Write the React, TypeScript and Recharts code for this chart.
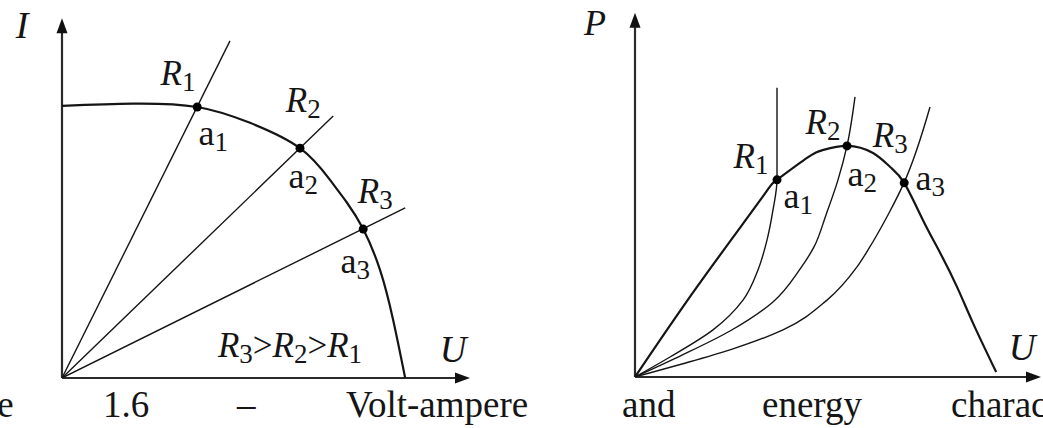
import React from "react";
import { ComposedChart, Line, Scatter, XAxis, YAxis, ReferenceLine } from "recharts";

// ---- left: volt-ampere characteristic I(U) ----
const vaU = [0, 1.78, 3.38, 4.7, 5.95, 6.7, 7.13, 7.53, 7.95, 8.28, 8.58];
const vaI = [7.2, 7.26, 7.17, 6.75, 6.08, 5.24, 4.63, 3.94, 2.86, 1.53, 0];

// load lines (straight, through the origin)
const load1U = [0, 4.2];
const load1I = [0, 8.92];
const load2U = [0, 6.78];
const load2I = [0, 6.93];
const load3U = [0, 8.58];
const load3I = [0, 4.5];

// operating points a1..a3
const vaPointU = [3.38, 5.95, 7.53];
const vaPointI = [7.17, 6.08, 3.94];

const vaLabels = [
  { text: "I", u: -1.0, v: 8.99, size: 38 },
  { text: "R_1", u: 2.9, v: 7.75, size: 35 },
  { text: "a_1", u: 3.78, v: 6.16, size: 36 },
  { text: "R_2", u: 6.03, v: 7.04, size: 35 },
  { text: "a_2", u: 6.03, v: 5.03, size: 36 },
  { text: "R_3", u: 7.83, v: 4.63, size: 35 },
  { text: "a_3", u: 7.33, v: 2.78, size: 36 },
  { text: "R_3>R_2>R_1", u: 5.7, v: 0.56, size: 35 },
  { text: "U", u: 9.78, v: 0.42, size: 37 },
];

// ---- right: energy characteristic P(U) ----
const pwU = [0, 1.55, 3.13, 3.55, 4.3, 4.7, 5.3, 5.95, 6.38, 6.73, 7.2, 7.63, 8.05, 8.45, 9.03];
const pwP = [0, 2.39, 4.69, 5.23, 5.81, 6.02, 6.13, 5.94, 5.57, 5.15, 4.16, 3.29, 2.39, 1.43, 0.13];

const r1U = [0, 0.875, 1.95, 2.7, 3.075, 3.3, 3.45, 3.55, 3.55];
const r1P = [0, 0.53, 1.25, 2.04, 2.84, 3.63, 4.43, 5.23, 7.67];
const r2U = [0, 1.175, 2.375, 3.45, 4.125, 4.475, 4.775, 5.075, 5.3, 5.5];
const r2P = [0, 0.58, 1.22, 1.99, 2.86, 3.45, 4.3, 5.23, 6.13, 7.43];
const r3U = [0, 1.175, 2.375, 3.7, 4.8, 5.55, 5.825, 6.35, 6.725, 7.375];
const r3P = [0, 0.345, 0.72, 1.25, 2.04, 2.92, 3.37, 4.35, 5.15, 7.16];

const pwPointU = [3.55, 5.3, 6.73];
const pwPointP = [5.23, 6.13, 5.15];

const pwLabels = [
  { text: "P", u: -1.0, v: 9.07, size: 36 },
  { text: "R_1", u: 2.9, v: 5.54, size: 35 },
  { text: "a_1", u: 4.08, v: 4.48, size: 36 },
  { text: "R_2", u: 4.7, v: 6.45, size: 35 },
  { text: "a_2", u: 5.68, v: 5.07, size: 36 },
  { text: "R_3", u: 6.38, v: 6.1, size: 35 },
  { text: "a_3", u: 7.38, v: 4.96, size: 36 },
  { text: "U", u: 9.68, v: 0.45, size: 37 },
];

const captionWords = ["Figure", "1.6", "–", "Volt-ampere", "and", "energy", "characteristics"];
const captionX = [-83, 103, 237, 346, 622, 762, 951];

const INK = "#151515";
const FONT = "'Liberation Serif', 'Times New Roman', serif";

const zip = (us: number[], vs: number[]) => us.map((u, k) => ({ u, v: vs[k] }));

function MathLabel(props: any) {
  const { cx, cy, payload } = props;
  const size: number = payload.size;
  const sub = Math.round(size * 0.76);
  const parts: React.ReactNode[] = [];
  let shift = 0;
  const src: string = payload.text;
  for (let k = 0; k < src.length; k++) {
    let ch = src[k];
    const isSub = ch === "_";
    if (isSub) ch = src[++k];
    const target = isSub ? Math.round(size * 0.18) : 0;
    const dy = target - shift;
    shift = target;
    const italic = /[RUIP]/.test(ch);
    parts.push(
      <tspan
        key={k}
        dy={dy}
        fontSize={isSub ? sub : size}
        fontStyle={italic ? "italic" : "normal"}
      >
        {ch}
      </tspan>
    );
  }
  return (
    <text x={cx} y={cy} textAnchor="middle" style={{ fontFamily: FONT }} fill={INK}>
      {parts}
    </text>
  );
}

function ArrowAxis(props: any) {
  const { x1, y1, x2, y2 } = props;
  const dx = x2 - x1;
  const dy = y2 - y1;
  const len = Math.hypot(dx, dy) || 1;
  const ux = dx / len;
  const uy = dy / len;
  const L = 15;
  const W = 5.5;
  const bx = x2 - ux * L;
  const by = y2 - uy * L;
  return (
    <g>
      <line x1={x1} y1={y1} x2={bx + ux * 2} y2={by + uy * 2} stroke="#2a2a2a" strokeWidth={2.2} />
      <polygon
        points={`${x2},${y2} ${bx - uy * W},${by + ux * W} ${bx + uy * W},${by - ux * W}`}
        fill="#111"
      />
    </g>
  );
}

const Dot = (props: any) => <circle cx={props.cx} cy={props.cy} r={4.5} fill="#000" />;

function VoltAmpere() {
  return (
    <ComposedChart width={482} height={428} margin={{ top: 0, right: 0, bottom: 50, left: 2 }}>
      <XAxis type="number" dataKey="u" domain={[-1.5, 10.5]} hide allowDataOverflow />
      <YAxis type="number" domain={[0, 10]} hide allowDataOverflow />
      <ReferenceLine segment={[{ x: 0, y: 0 }, { x: 10.2, y: 0 }]} shape={ArrowAxis} ifOverflow="visible" />
      <ReferenceLine segment={[{ x: 0, y: 0 }, { x: 0, y: 9.52 }]} shape={ArrowAxis} ifOverflow="visible" />
      <Line data={zip(load1U, load1I)} dataKey="v" type="linear" stroke={INK} strokeWidth={1.4} dot={false} isAnimationActive={false} />
      <Line data={zip(load2U, load2I)} dataKey="v" type="linear" stroke={INK} strokeWidth={1.4} dot={false} isAnimationActive={false} />
      <Line data={zip(load3U, load3I)} dataKey="v" type="linear" stroke={INK} strokeWidth={1.4} dot={false} isAnimationActive={false} />
      <Line data={zip(vaU, vaI)} dataKey="v" type="natural" stroke={INK} strokeWidth={2.2} dot={false} isAnimationActive={false} />
      <Scatter data={zip(vaPointU, vaPointI)} dataKey="v" shape={Dot} isAnimationActive={false} />
      <Scatter data={vaLabels} dataKey="v" shape={MathLabel} isAnimationActive={false} />
    </ComposedChart>
  );
}

function Energy() {
  return (
    <ComposedChart width={503} height={428} margin={{ top: 0, right: 0, bottom: 51, left: 35 }}>
      <XAxis type="number" dataKey="u" domain={[-1.5, 10.2]} hide allowDataOverflow />
      <YAxis type="number" domain={[0, 10]} hide allowDataOverflow />
      <ReferenceLine segment={[{ x: 0, y: 0 }, { x: 10.15, y: 0 }]} shape={ArrowAxis} ifOverflow="visible" />
      <ReferenceLine segment={[{ x: 0, y: 0 }, { x: 0, y: 9.66 }]} shape={ArrowAxis} ifOverflow="visible" />
      <Line data={zip(r1U, r1P)} dataKey="v" type="monotoneY" stroke={INK} strokeWidth={1.4} dot={false} isAnimationActive={false} />
      <Line data={zip(r2U, r2P)} dataKey="v" type="monotoneY" stroke={INK} strokeWidth={1.4} dot={false} isAnimationActive={false} />
      <Line data={zip(r3U, r3P)} dataKey="v" type="monotoneY" stroke={INK} strokeWidth={1.4} dot={false} isAnimationActive={false} />
      <Line data={zip(pwU, pwP)} dataKey="v" type="natural" stroke={INK} strokeWidth={2.2} dot={false} isAnimationActive={false} />
      <Scatter data={zip(pwPointU, pwPointP)} dataKey="v" shape={Dot} isAnimationActive={false} />
      <Scatter data={pwLabels} dataKey="v" shape={MathLabel} isAnimationActive={false} />
    </ComposedChart>
  );
}

export default function App() {
  return (
    <div
      style={{
        position: "absolute",
        left: 0,
        top: 0,
        width: 1043,
        height: 428,
        overflow: "hidden",
        background: "#fff",
      }}
    >
      <div style={{ position: "absolute", left: 0, top: 0 }}>
        <VoltAmpere />
      </div>
      <div style={{ position: "absolute", left: 540, top: 0 }}>
        <Energy />
      </div>
      {captionWords.map((w, k) => (
        <span
          key={w}
          style={{
            position: "absolute",
            left: captionX[k],
            top: 385,
            fontFamily: FONT,
            fontSize: 37,
            lineHeight: "40px",
            color: INK,
            whiteSpace: "nowrap",
          }}
        >
          {w}
        </span>
      ))}
    </div>
  );
}
